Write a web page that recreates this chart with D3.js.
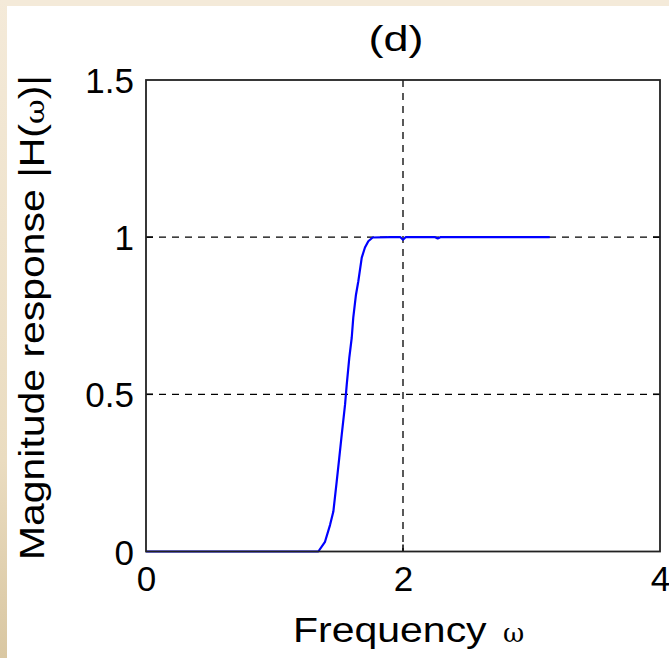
<!DOCTYPE html>
<html>
<head>
<meta charset="utf-8">
<script src="https://cdn.jsdelivr.net/npm/d3@7"></script>
<style>
html,body{margin:0;padding:0;background:#fff;}
svg{display:block;}
</style>
</head>
<body>
<svg id="chart" width="669" height="658"></svg>
<script>
// ---- data ----
const omega = [0, 0.5, 1.0, 1.341, 1.393, 1.432, 1.458, 1.484, 1.504, 1.523, 1.549, 1.562, 1.582, 1.601, 1.613, 1.634, 1.652, 1.679, 1.704, 1.730, 1.764, 1.9, 1.98, 2.0, 2.02, 2.25, 2.27, 2.29, 2.6, 3.0, 3.1416];
const magnitude = [0, 0, 0, 0, 0.031, 0.084, 0.127, 0.222, 0.298, 0.371, 0.467, 0.530, 0.616, 0.680, 0.744, 0.817, 0.859, 0.935, 0.967, 0.987, 0.999, 1.0, 1.0, 0.992, 1.0, 1.0, 0.996, 1.0, 1.0, 1.0, 1.0];
const xTicks = [0, 2, 4];
const yTicks = [0, 0.5, 1, 1.5];
const xGrid = [2];
const yGrid = [0.5, 1];
const titleText = "(d)";
const xLabelText = "Frequency ";
const yLabelText = "Magnitude response |H(";

const svg = d3.select("#chart");
const W = 669, H = 658;

// background (beige border)
svg.append("rect").attr("x",0).attr("y",0).attr("width",W).attr("height",H).attr("fill","#f4ead9");
const grad = svg.append("defs").append("linearGradient").attr("id","lg").attr("x1",0).attr("y1",0).attr("x2",0).attr("y2",1);
grad.append("stop").attr("offset","0%").attr("stop-color","#f4ead9");
grad.append("stop").attr("offset","70%").attr("stop-color","#eadcc0");
grad.append("stop").attr("offset","100%").attr("stop-color","#d9c7a2");
svg.append("rect").attr("x",0).attr("y",0).attr("width",7).attr("height",H).attr("fill","url(#lg)");
svg.append("rect").attr("x",7).attr("y",6).attr("width",W-7).attr("height",H-6).attr("fill","#ffffff");

const L = 146, R = 660, T = 80, B = 551.5;
const x = d3.scaleLinear().domain([0,4]).range([L,R]);
const y = d3.scaleLinear().domain([0,1.5]).range([B,T]);

const font = "'Liberation Sans', Arial, sans-serif";

// grid
const g = svg.append("g");
g.selectAll(".gx").data(xGrid).enter().append("line")
  .attr("x1",d=>x(d)).attr("x2",d=>x(d)).attr("y1",T).attr("y2",B)
  .attr("stroke","#000").attr("stroke-width",1.3).attr("stroke-dasharray","7,6");
g.selectAll(".gy").data(yGrid).enter().append("line")
  .attr("x1",L).attr("x2",R).attr("y1",d=>y(d)).attr("y2",d=>y(d))
  .attr("stroke","#000").attr("stroke-width",1.3).attr("stroke-dasharray","7,6");

// axes via d3
const xAxis = d3.axisBottom(x).tickValues(xTicks).tickSize(0).tickPadding(14).tickFormat(d3.format("d"));
const yAxis = d3.axisLeft(y).tickValues(yTicks).tickSize(0).tickPadding(12).tickFormat(d=>d===0?"0":d3.format("")(d));
const gx = svg.append("g").attr("transform",`translate(0,${B})`).call(xAxis);
const gy = svg.append("g").attr("transform",`translate(${L},0)`).call(yAxis);
[gx,gy].forEach(a=>{
  a.select(".domain").remove();
  a.selectAll("text").attr("font-family",font).attr("font-size",35).attr("fill","#000");
});
gx.selectAll("text").attr("dy","0.72em");
gy.selectAll("text").attr("dy","0.36em");

// inner tick marks (MATLAB style)
const tk = 7;
svg.append("g").selectAll("line").data(xTicks.filter(d=>d>0&&d<4)).enter().append("line")
  .attr("x1",d=>x(d)).attr("x2",d=>x(d)).attr("y1",B).attr("y2",B-tk).attr("stroke","#000").attr("stroke-width",1.5);
svg.append("g").selectAll("line").data(yTicks.filter(d=>d>0&&d<1.5)).enter().append("line")
  .attr("x1",L).attr("x2",L+tk).attr("y1",d=>y(d)).attr("y2",d=>y(d)).attr("stroke","#000").attr("stroke-width",1.5);
svg.append("g").selectAll("line").data(yTicks.filter(d=>d>0&&d<1.5)).enter().append("line")
  .attr("x1",R).attr("x2",R-tk).attr("y1",d=>y(d)).attr("y2",d=>y(d)).attr("stroke","#000").attr("stroke-width",1.5);

// curve
const line = d3.line().x((d,i)=>x(omega[i])).y(d=>y(d));
svg.append("path").datum(magnitude).attr("d",line)
  .attr("fill","none").attr("stroke","#0000ff").attr("stroke-width",2.2).attr("stroke-linejoin","round");

// box
svg.append("rect").attr("x",L).attr("y",T).attr("width",R-L).attr("height",B-T)
  .attr("fill","none").attr("stroke","#222").attr("stroke-width",1.8);

// title
svg.append("text").attr("x",396).attr("y",51).attr("text-anchor","middle")
  .attr("font-family",font).attr("font-size",35).attr("textLength",55).attr("lengthAdjust","spacingAndGlyphs").text(titleText);

// x label
const xl = svg.append("text").attr("x",293).attr("y",642)
  .attr("font-family",font).attr("font-size",35).attr("fill","#000");
xl.append("tspan").attr("textLength",205).attr("lengthAdjust","spacingAndGlyphs").text(xLabelText);
xl.append("tspan").attr("x",503).attr("font-size",26).attr("font-family","'DejaVu Serif', serif").text("ω");

// y label
const yl = svg.append("text").attr("transform","translate(44,560) rotate(-90)")
  .attr("font-family",font).attr("font-size",35).attr("fill","#000")
  .attr("textLength",485).attr("lengthAdjust","spacingAndGlyphs");
yl.append("tspan").text(yLabelText);
yl.append("tspan").attr("font-size",26).attr("font-family","'DejaVu Serif', serif").text("ω");
yl.append("tspan").text(")|");
</script>
</body>
</html>
